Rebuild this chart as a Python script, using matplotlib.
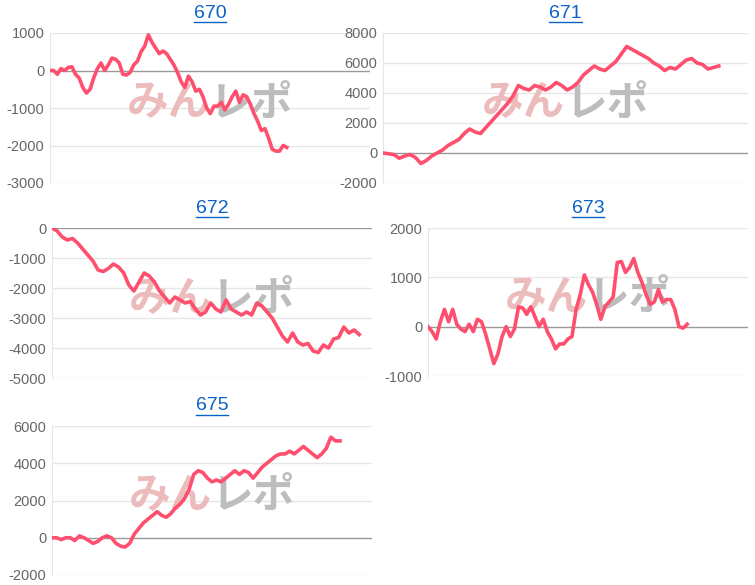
import matplotlib
matplotlib.use("Agg")
import matplotlib.pyplot as plt
from matplotlib.lines import Line2D

plt.rcParams["font.family"] = ["Liberation Sans", "DejaVu Sans"]

titles = ["670", "671", "672", "673", "675"]

s670 = [0, 0, -100, 50, 0, 80, 100, -100, -200, -450, -600, -500, -200, 50, 200, 0, 150, 330,
        300, 200, -100, -120, -50, 150, 250, 500, 650, 950, 750, 600, 450, 520, 450, 300, 150,
        -50, -300, -450, -150, -300, -550, -500, -700, -1000, -1150, -950, -950, -850, -1050,
        -900, -700, -550, -850, -650, -700, -900, -1150, -1350, -1600, -1550, -1800, -2100,
        -2150, -2150, -2000, -2050]
s671 = [0, -50, -100, -350, -200, -100, -300, -700, -500, -200, 0, 200, 500, 700, 900, 1300,
        1600, 1400, 1300, 1700, 2100, 2500, 2900, 3300, 3800, 4500, 4300, 4200, 4500, 4400,
        4200, 4400, 4700, 4500, 4200, 4400, 4700, 5200, 5500, 5800, 5600, 5500, 5800, 6100,
        6600, 7100, 6900, 6700, 6500, 6300, 6000, 5800, 5500, 5700, 5600, 5900, 6200, 6300,
        6000, 5900, 5600, 5700, 5800]
s672 = [0, -100, -300, -400, -350, -500, -700, -900, -1100, -1400, -1450, -1350, -1200, -1300,
        -1500, -1900, -2100, -1800, -1500, -1600, -1800, -2100, -2300, -2500, -2300, -2400,
        -2500, -2450, -2700, -2900, -2800, -2500, -2700, -2800, -2400, -2700, -2800, -2900,
        -2800, -2900, -2500, -2600, -2800, -3000, -3300, -3600, -3800, -3500, -3800, -3900,
        -3850, -4100, -4150, -3900, -4000, -3700, -3650, -3300, -3500, -3400, -3550]
s673 = [0, -100, -250, 100, 350, 100, 350, 50, -50, -100, 50, -100, 150, 100, -150, -450, -750,
        -550, -200, 0, -200, -50, 400, 380, 250, 400, 200, 0, 150, -100, -250, -450, -350,
        -350, -250, -200, 350, 650, 1050, 850, 700, 450, 150, 400, 500, 600, 1300, 1320, 1100,
        1200, 1380, 1100, 900, 650, 450, 500, 750, 500, 550, 550, 350, 0, -30, 50]
s675 = [0, 0, -100, 0, 0, -150, 100, 0, -150, -300, -200, 0, 100, 0, -300, -450, -500, -300,
        200, 500, 800, 1000, 1200, 1400, 1200, 1100, 1300, 1600, 1800, 2100, 2600, 3400, 3600,
        3500, 3200, 3000, 3100, 3000, 3200, 3400, 3600, 3400, 3600, 3500, 3200, 3500, 3800,
        4000, 4200, 4400, 4500, 4500, 4650, 4500, 4700, 4900, 4700, 4500, 4300, 4500, 4800,
        5400, 5200, 5200]
series = [s670, s671, s672, s673, s675]
coverage = [0.74, 0.92, 0.96, 0.81, 0.90]
yticks = [
    [-3000, -2000, -1000, 0, 1000],
    [-2000, 0, 2000, 4000, 6000, 8000],
    [-5000, -4000, -3000, -2000, -1000, 0],
    [-1000, 0, 1000, 2000],
    [-2000, 0, 2000, 4000, 6000],
]

W, H = 755, 585
# pixel boxes: (left, top, right, bottom)
boxes = [(50, 33, 370, 183), (383, 33, 748, 183), (52, 228, 372, 378),
         (428, 228, 748, 376), (52, 426, 372, 575)]

fig = plt.figure(figsize=(W / 100, H / 100), dpi=100)
for title, ys, cov, ticks, (l, t, r, b) in zip(titles, series, coverage, yticks, boxes):
    ax = fig.add_axes([l / W, 1 - b / H, (r - l) / W, (b - t) / H])
    n = len(ys)
    ax.set_xlim(0, (n - 1) / cov)
    ax.set_ylim(ticks[0], ticks[-1])
    ax.set_yticks(ticks)
    ax.set_yticklabels([str(v) for v in ticks])
    for v in ticks:
        ax.axhline(v, color="#999999" if v == 0 else "#e6e6e6", lw=1, zorder=0)
    ax.plot(range(n), ys, color="#ff4f6e", lw=2.6, zorder=3)
    ax.set_xticks([])
    for sp in ["top", "right", "bottom"]:
        ax.spines[sp].set_visible(False)
    ax.spines["left"].set_color("#e6e6e6")
    ax.tick_params(axis="y", length=0, labelsize=10.5, labelcolor="#666666", pad=4)

    # watermark
    ax.text(0.50, 0.53, "みん", transform=ax.transAxes, ha="right", va="center",
            fontsize=30, fontweight="bold", color="#ecbcbc", family="Noto Sans CJK JP", zorder=1)
    ax.text(0.50, 0.53, "レポ", transform=ax.transAxes, ha="left", va="center",
            fontsize=30, fontweight="bold", color="#bdbdbd", family="Noto Sans CJK JP", zorder=1)

    # linked title with underline
    cx = (l + r) / 2 / W
    ty = 1 - (t - 20) / H
    fig.text(cx, ty, title, ha="center", va="center", fontsize=14, color="#0b63c5")
    uy = 1 - (t - 11) / H
    fig.add_artist(Line2D([cx - 16 / W, cx + 16 / W], [uy, uy], color="#0b63c5", lw=1,
                          transform=fig.transFigure))

fig.savefig("out.png", dpi=100)
